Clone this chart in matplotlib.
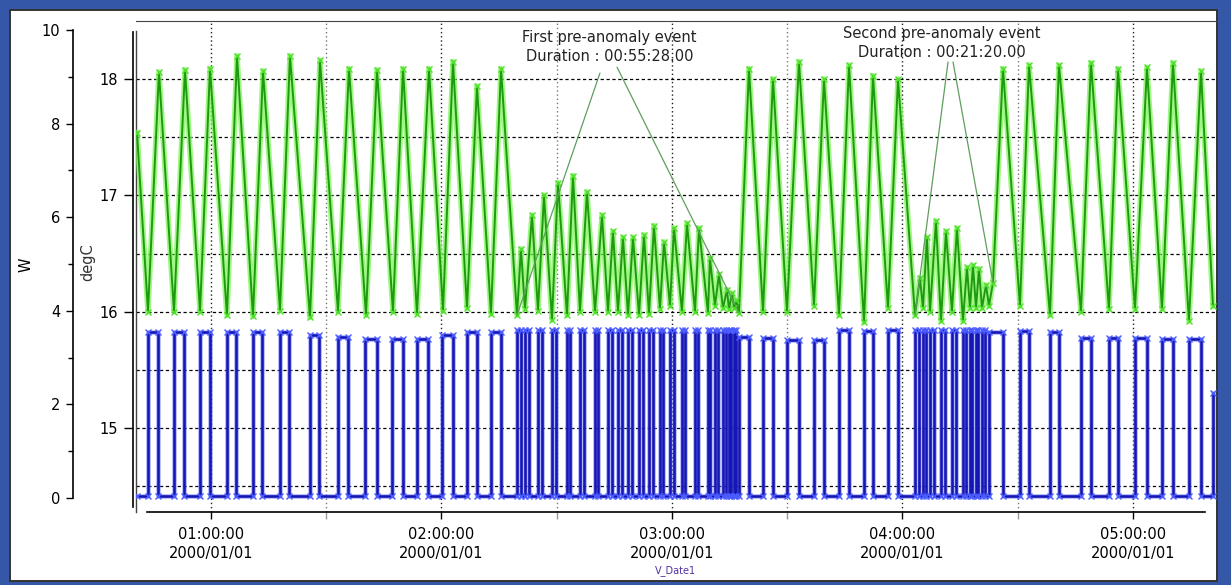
import matplotlib
matplotlib.use("Agg")
import matplotlib.pyplot as plt
from matplotlib.ticker import MultipleLocator, FixedLocator, FuncFormatter, NullFormatter
from matplotlib.patches import Rectangle

# ---------------- data (times in minutes after 2000/01/01 00:00:00) ----------------
temp_time = [40.74, 43.60, 46.46, 50.37, 53.23, 57.14, 59.74, 64.16, 66.77, 70.93,
             73.54, 77.96, 80.56, 85.77, 88.37, 93.06, 95.92, 100.35, 103.21, 107.37,
             109.98, 113.62, 116.75, 120.39, 122.99, 126.64, 129.24, 132.88, 135.49, 139.65,
             140.69, 141.73, 143.56, 145.12, 146.68, 148.76, 150.32, 152.67, 154.23, 156.05,
             157.87, 159.96, 161.78, 163.34, 164.64, 165.94, 167.24, 168.55, 169.85, 171.41,
             172.71, 174.01, 175.31, 176.87, 177.92, 179.48, 180.52, 182.60, 183.90, 185.99,
             187.03, 189.37, 189.89, 191.19, 192.23, 193.27, 194.31, 194.84, 195.62, 196.14,
             196.66, 197.44, 200.04, 203.69, 206.29, 209.93, 213.06, 216.96, 219.56, 223.47,
             226.07, 229.98, 232.32, 236.22, 238.83, 243.25, 244.55, 245.33, 246.37, 247.16,
             248.72, 250.02, 251.32, 252.88, 254.18, 255.75, 256.79, 257.57, 258.35, 259.13,
             259.91, 260.69, 261.73, 262.51, 263.55, 266.16, 270.58, 272.93, 278.39, 280.73,
             286.46, 289.06, 293.75, 296.09, 300.52, 303.64, 307.55, 310.41, 314.57, 317.70,
             320.82]
temp_degC = [17.54, 16.00, 18.06, 16.00, 18.08, 16.00, 18.09, 15.97, 18.20, 15.96,
             18.07, 16.01, 18.20, 15.95, 18.16, 16.00, 18.09, 15.97, 18.08, 16.00,
             18.09, 15.98, 18.09, 16.01, 18.15, 16.03, 17.94, 15.98, 18.09, 15.97,
             16.54, 16.02, 16.83, 16.01, 17.00, 15.93, 17.11, 15.97, 17.17, 16.00,
             17.03, 16.00, 16.83, 16.00, 16.69, 16.00, 16.64, 15.97, 16.64, 15.97,
             16.66, 15.98, 16.74, 16.02, 16.60, 16.05, 16.72, 16.00, 16.76, 16.00,
             16.72, 15.99, 16.46, 16.05, 16.32, 16.03, 16.19, 16.02, 16.16, 16.03,
             16.10, 15.99, 18.09, 16.00, 18.00, 16.00, 18.15, 16.05, 18.00, 15.97,
             18.12, 15.91, 18.03, 16.03, 18.00, 15.97, 16.29, 16.03, 16.64, 16.00,
             16.78, 15.92, 16.69, 16.00, 16.72, 15.92, 16.38, 16.03, 16.40, 16.03,
             16.37, 16.03, 16.23, 16.05, 16.25, 18.09, 16.05, 18.12, 15.97, 18.12,
             16.00, 18.14, 16.02, 18.09, 16.02, 18.10, 16.02, 18.14, 15.92, 18.07,
             16.05]

heater_on = [43.60, 50.37, 57.14, 64.16, 70.93, 77.96, 85.77, 93.06, 100.09, 107.11,
             113.62, 120.13, 126.64, 132.88, 139.65, 141.73, 145.12, 148.76, 152.67, 156.05,
             159.96, 163.34, 165.94, 168.55, 171.41, 174.01, 176.87, 179.48, 182.60, 185.99,
             189.37, 191.19, 193.27, 194.84, 196.14, 197.44, 203.69, 209.93, 216.96, 223.47,
             229.98, 236.22, 243.25, 245.33, 247.16, 250.02, 252.88, 255.75, 257.57, 259.13,
             260.69, 262.51, 270.58, 278.39, 286.46, 293.75, 300.52, 307.55, 314.57]
heater_off = [46.20, 52.97, 59.74, 66.51, 73.28, 80.30, 88.11, 95.66, 103.21, 109.98,
              116.49, 122.99, 129.24, 135.49, 140.69, 142.78, 146.16, 149.80, 153.45, 157.09,
              160.74, 164.38, 166.98, 169.59, 172.45, 175.05, 177.66, 180.52, 183.38, 186.77,
              189.89, 191.97, 194.05, 195.36, 196.66, 200.04, 206.29, 213.06, 219.56, 226.07,
              232.32, 238.83, 244.30, 246.10, 248.20, 251.00, 253.90, 256.50, 258.10, 259.70,
              261.40, 266.16, 272.93, 280.73, 289.06, 296.09, 303.64, 310.41, 317.70]
heater_high_W = [3.55, 3.55, 3.55, 3.55, 3.55, 3.55, 3.48, 3.44, 3.40, 3.40,
                 3.40, 3.48, 3.55, 3.55, 3.58, 3.58, 3.58, 3.58, 3.58, 3.58,
                 3.58, 3.58, 3.58, 3.58, 3.58, 3.58, 3.58, 3.58, 3.58, 3.58,
                 3.58, 3.58, 3.58, 3.58, 3.58, 3.44, 3.42, 3.38, 3.38, 3.59,
                 3.57, 3.59, 3.59, 3.59, 3.59, 3.59, 3.59, 3.59, 3.59, 3.59,
                 3.59, 3.55, 3.57, 3.55, 3.42, 3.42, 3.42, 3.40, 3.40]
heater_low_W = 0.05
heater_start, heater_end, heater_end_W = 40.74, 320.82, 2.25

event_labels = ["First pre-anomaly event\nDuration : 00:55:28.00",
                "Second pre-anomaly event\nDuration : 00:21:20.00"]
event_start = [139.65, 243.25]
event_start_degC = [15.97, 15.97]
event_end = [197.44, 263.55]
event_end_degC = [15.99, 16.25]

x_ticks = [60, 120, 180, 240, 300]
degC_ticks = [15, 16, 17, 18]
W_ticks = [0, 2, 4, 6, 8, 10]

# ---------------- figure ----------------
W_PX, H_PX = 1231, 585
fig = plt.figure(figsize=(W_PX / 100, H_PX / 100), dpi=100)
fig.patch.set_facecolor("white")
fig.patches.append(Rectangle((0, 0), 1, 1, transform=fig.transFigure,
                             facecolor="#3557a7", edgecolor="none", zorder=-20))
fig.patches.append(Rectangle((10 / W_PX, 1 - 581 / H_PX), (1217 - 10) / W_PX, (581 - 10) / H_PX,
                             transform=fig.transFigure, facecolor="white",
                             edgecolor="#333333", linewidth=1.4, zorder=-19))

L, R, T, B = 136, 1217, 21, 512
ax = fig.add_axes([L / W_PX, 1 - B / H_PX, (R - L) / W_PX, (B - T) / H_PX])
ax.patch.set_alpha(0)
ax.set_xlim(40.48, 321.87)
ax.set_ylim(14.278, 18.4986)

# degC axis
ax.spines["left"].set_position(("axes", -3 / (R - L)))
ax.spines["left"].set_bounds(14.32, 18.40)
ax.spines["left"].set_linewidth(1.2)
ax.spines["right"].set_visible(False)
ax.spines["top"].set_color("#444444")
ax.spines["bottom"].set_bounds(43.34, 318.74)
ax.spines["bottom"].set_linewidth(1.2)
ax.plot([0, 0], [0, 0.98], transform=ax.transAxes, color="#444444", lw=1.0, clip_on=False)

ax.yaxis.set_major_locator(FixedLocator(degC_ticks))
ax.yaxis.set_minor_locator(FixedLocator([14.5, 15.5, 16.5, 17.5]))
ax.tick_params(axis="y", which="major", length=6.5, width=1, pad=4, labelsize=10.5, direction="out")
ax.tick_params(axis="y", which="minor", length=0)
ax.grid(axis="y", which="both", color="black", linestyle=(0, (2.6, 2.1)), linewidth=0.9)

ax.xaxis.set_major_locator(FixedLocator(x_ticks))
ax.xaxis.set_minor_locator(MultipleLocator(30))
ax.xaxis.set_major_formatter(FuncFormatter(
    lambda v, p: f"{int(v // 60):02d}:{int(v % 60):02d}:00\n2000/01/01"))
ax.xaxis.set_minor_formatter(NullFormatter())
ax.tick_params(axis="x", which="major", length=5, width=1, pad=6, labelsize=10.5)
ax.tick_params(axis="x", which="minor", length=5, width=1, color="#999999")
ax.grid(axis="x", which="major", color="#222222", linestyle=(0, (1, 2)), linewidth=1.0)
ax.grid(axis="x", which="minor", color="#777777", linestyle=(0, (1, 2)), linewidth=1.0)
for lab in ax.get_xticklabels():
    lab.set_linespacing(1.3)
ax.set_axisbelow(True)

ax.set_ylabel("degC", fontsize=10.5, color="#333333")
ax.yaxis.set_label_coords((95 - L) / (R - L), 1 - (262 - T) / (B - T))

# W axis
ax2 = ax.twinx()
ax2.set_ylim(-0.299, 10.192)
ax2.yaxis.set_ticks_position("left")
ax2.yaxis.set_label_position("left")
for s in ("right", "top", "bottom"):
    ax2.spines[s].set_visible(False)
ax2.spines["left"].set_visible(True)
ax2.spines["left"].set_position(("axes", (73 - L) / (R - L)))
ax2.spines["left"].set_bounds(0, 10)
ax2.spines["left"].set_linewidth(1.2)
ax2.yaxis.set_major_locator(FixedLocator(W_ticks))
ax2.yaxis.set_minor_locator(MultipleLocator(1))
ax2.tick_params(axis="y", which="major", length=5, width=1, pad=4, labelsize=10.5)
ax2.tick_params(axis="y", which="minor", length=3.5, width=1)
ax2.set_ylabel("W", fontsize=10.5)
ax2.yaxis.set_label_coords((34 - L) / (R - L), 1 - (265 - T) / (B - T))

# temperature series (green)
ax.plot(temp_time, temp_degC, color="#7ff55a", lw=4.0, alpha=0.75, zorder=3, solid_joinstyle="round")
ax.plot(temp_time, temp_degC, color="#1f9a10", lw=1.4, zorder=4,
        marker="x", ms=5, mec="#4ee02a", mew=1.0)

# heater power series (blue)
bx = [heater_start]
by = [heater_low_W]
for on, off, hi in zip(heater_on, heater_off, heater_high_W):
    bx += [on, on, off, off]
    by += [heater_low_W, hi, hi, heater_low_W]
bx += [heater_end, heater_end]
by += [heater_low_W, heater_end_W]
ax2.plot(bx, by, color="#5f70ff", lw=3.4, alpha=0.5, zorder=3)
ax2.plot(bx, by, color="#1616b4", lw=1.9, zorder=4, marker="x", ms=5, mec="#4a5cff", mew=1.0)

# annotations
txt_pos = [(0.438, 0.947), (0.7456, 0.955)]
start_anchor = [(0.4292, 0.894), (0.7512, 0.9165)]
end_anchor = [(0.445, 0.906), (0.7558, 0.9165)]
for i, lab in enumerate(event_labels):
    ax.text(txt_pos[i][0], txt_pos[i][1], lab, transform=ax.transAxes, ha="center", va="center",
            fontsize=10.5, color="#222222", linespacing=1.3, zorder=6)
    for (tx, ty), pt in ((start_anchor[i], (event_start[i], event_start_degC[i])),
                         (end_anchor[i], (event_end[i], event_end_degC[i]))):
        ax.annotate("", xy=pt, xycoords="data", xytext=(tx, ty), textcoords="axes fraction",
                    arrowprops=dict(arrowstyle="-", color="#5f9e5f", lw=0.9, shrinkA=0, shrinkB=0),
                    zorder=5)

fig.text(675 / W_PX, 1 - 571 / H_PX, "V_Date1", fontsize=7, color="#5030a0", ha="center", va="center")

fig.savefig("out.png", dpi=100)
